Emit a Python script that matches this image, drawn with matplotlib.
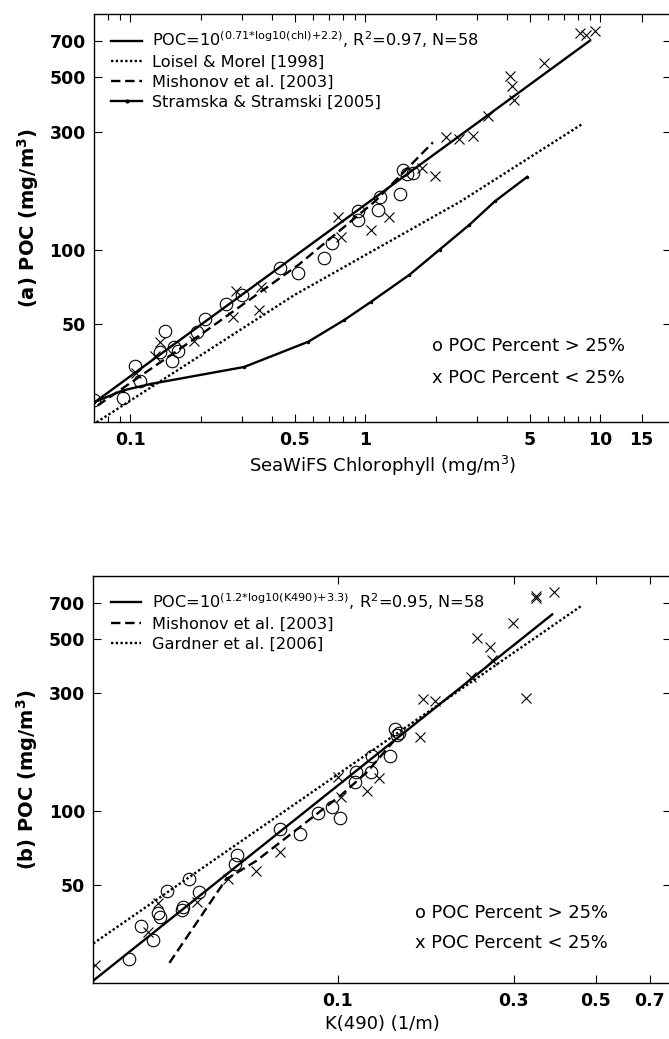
import matplotlib
matplotlib.use('Agg')
import matplotlib.pyplot as plt
from matplotlib.ticker import FixedLocator, FixedFormatter, NullFormatter, NullLocator
from matplotlib.lines import Line2D

plt.rcParams['font.family'] = ['DejaVu Sans']
plt.rcParams['mathtext.fontset'] = 'custom'
plt.rcParams['mathtext.rm'] = 'DejaVu Sans'
plt.rcParams['mathtext.it'] = 'DejaVu Sans'
plt.rcParams['mathtext.bf'] = 'DejaVu Sans:bold'
plt.rcParams['mathtext.default'] = 'regular'

# ---------------- Panel (a): POC vs SeaWiFS chlorophyll ----------------
chl_circle = [0.070, 0.0927, 0.105, 0.110, 0.141, 0.134, 0.154, 0.159, 0.150, 0.193, 0.207,
              0.255, 0.298, 0.434, 0.515, 0.667, 0.719, 0.933, 0.933, 1.13, 1.15, 1.41,
              1.45, 1.51, 1.60]
poc_circle_a = [24.6, 25.1, 33.8, 29.4, 47.0, 38.4, 40.2, 39.0, 35.5, 46.3, 52.5,
                60.4, 65.3, 84.5, 80.5, 92.2, 106, 143, 132, 145, 164, 168,
                211, 202, 205]
chl_cross = [0.106, 0.127, 0.134, 0.187, 0.274, 0.351, 0.281, 0.360, 0.767, 0.784, 1.06,
             1.26, 1.75, 1.98, 2.20, 2.50, 2.87, 3.34, 4.12, 4.20, 4.30, 5.77, 8.23,
             8.66, 9.52]
poc_cross_a = [31.8, 37.2, 42.1, 42.8, 53.3, 56.8, 67.8, 70.6, 136, 113, 120,
               136, 215, 199, 285, 280, 289, 349, 503, 458, 404, 570, 757,
               740, 771]

fit_a_chl = [0.070, 9.0]
fit_a_poc = [24.0, 700]
loisel_chl = [0.0718, 0.5, 2.55, 8.39]
loisel_poc = [20.0, 65.6, 157, 323]
mishonov_a_chl = [0.0726, 0.207, 0.52, 1.10, 1.94]
mishonov_a_poc = [23.4, 46.5, 86.9, 157, 272]
stramska_chl = [0.070, 0.0927, 0.122, 0.305, 0.572, 0.813, 1.06, 1.54, 2.07, 2.77, 3.56, 4.88]
stramska_poc = [24.1, 26.9, 28.6, 33.5, 42.4, 51.9, 61.6, 79.1, 100, 126, 157, 197]

# ---------------- Panel (b): POC vs K(490) ----------------
k_circle = [0.0271, 0.0316, 0.0292, 0.0329, 0.0326, 0.0344, 0.0378, 0.0380, 0.0395, 0.0419,
            0.0531, 0.0527, 0.0697, 0.0787, 0.0880, 0.0961, 0.101, 0.111, 0.112, 0.123,
            0.124, 0.138, 0.143, 0.145, 0.146]
poc_circle_b = [25.0, 29.9, 34.0, 37.1, 38.5, 47.4, 39.6, 40.9, 52.8, 46.7,
                66.2, 60.7, 84.5, 81.0, 98.5, 104, 93.5, 131, 144, 144,
                167, 167, 215, 203, 207]
k_cross = [0.0219, 0.0305, 0.0326, 0.0414, 0.0503, 0.0599, 0.0697, 0.100, 0.102, 0.120,
           0.129, 0.167, 0.170, 0.183, 0.230, 0.238, 0.258, 0.261, 0.298, 0.323,
           0.344, 0.344, 0.386]
poc_cross_b = [23.7, 32.3, 42.2, 42.8, 52.8, 57.1, 68.1, 137, 114, 120,
               136, 199, 284, 279, 351, 501, 461, 410, 577, 288,
               748, 730, 773]

fit_b_k = [0.0217, 0.381]
fit_b_poc = [20.5, 627]
mishonov_b_k = [0.0349, 0.0497, 0.0599, 0.078, 0.102, 0.120, 0.145]
mishonov_b_poc = [24.2, 52.8, 62.6, 85, 116, 144, 200]
gardner_k = [0.0217, 0.459]
gardner_poc = [29.0, 682]

yticks = [50, 100, 300, 500, 700]

W, H = 669, 1039
fig = plt.figure(figsize=(W / 100, H / 100), dpi=100)

def px_axes(left, top, right, bottom):
    return fig.add_axes([left / W, 1 - bottom / H, (right - left) / W, (bottom - top) / H])

ax1 = px_axes(94, 14, 671, 422.3)
ax2 = px_axes(93.3, 575.7, 671, 983.3)

lw = 1.7
mk = dict(linestyle='none', color='black', markerfacecolor='none', markeredgewidth=0.8)
LEGFS = 11.6
ANNFS = 12.9

# Panel (a)
ax1.plot(chl_circle, poc_circle_a, marker='o', markersize=9, **mk)
ax1.plot(chl_cross, poc_cross_a, marker='x', markersize=7.5, **mk)
l1, = ax1.plot(fit_a_chl, fit_a_poc, color='black', lw=lw, linestyle='-')
l2, = ax1.plot(loisel_chl, loisel_poc, color='black', lw=lw, linestyle=(0, (1, 1)))
l3, = ax1.plot(mishonov_a_chl, mishonov_a_poc, color='black', lw=lw, linestyle=(0, (4, 2)))
l4, = ax1.plot(stramska_chl, stramska_poc, color='black', lw=lw, linestyle='-',
               marker='.', markersize=3)
h4 = Line2D([], [], color='black', lw=lw, marker='.', markersize=4)

ax1.set_xscale('log')
ax1.set_yscale('log')
ax1.set_xlim(0.07, 20)
ax1.set_ylim(20, 900)
ax1.xaxis.set_major_locator(FixedLocator([0.1, 0.5, 1, 5, 10, 15]))
ax1.xaxis.set_major_formatter(FixedFormatter(['0.1', '0.5', '1', '5', '10', '15']))
ax1.xaxis.set_minor_locator(FixedLocator([0.08, 0.09, 0.2, 0.3, 0.4, 0.6, 0.7, 0.8, 0.9,
                                           2, 3, 4, 6, 7, 8, 9]))
ax1.xaxis.set_minor_formatter(NullFormatter())

leg1 = ax1.legend([l1, l2, l3, h4],
                  [r'POC=10$^{(0.71{*}log10(chl){+}2.2)}$, R$^2$=0.97, N=58',
                   'Loisel & Morel [1998]', 'Mishonov et al. [2003]',
                   'Stramska & Stramski [2005]'],
                  loc='upper left', bbox_to_anchor=(0.03, 0.962), frameon=False,
                  fontsize=LEGFS, handlelength=1.9, handletextpad=0.65, labelspacing=0.3,
                  borderpad=0, borderaxespad=0)
ax1.text(0.586, 0.186, 'o POC Percent > 25%', transform=ax1.transAxes, fontsize=ANNFS,
         va='center', ha='left')
ax1.text(0.586, 0.108, 'x POC Percent < 25%', transform=ax1.transAxes, fontsize=ANNFS,
         va='center', ha='left')
ax1.set_xlabel('SeaWiFS Chlorophyll (mg/m$^3$)', fontsize=13, labelpad=4)
ax1.set_ylabel('(a) POC (mg/m$^3$)', fontsize=14, fontweight='bold', labelpad=6)

# Panel (b)
ax2.plot(k_circle, poc_circle_b, marker='o', markersize=9, **mk)
ax2.plot(k_cross, poc_cross_b, marker='x', markersize=7.5, **mk)
m1, = ax2.plot(fit_b_k, fit_b_poc, color='black', lw=lw, linestyle='-')
m2, = ax2.plot(mishonov_b_k, mishonov_b_poc, color='black', lw=lw, linestyle=(0, (4, 2)))
m3, = ax2.plot(gardner_k, gardner_poc, color='black', lw=lw, linestyle=(0, (1, 1)))

ax2.set_xscale('log')
ax2.set_yscale('log')
ax2.set_xlim(0.0217, 0.8)
ax2.set_ylim(20, 900)
ax2.xaxis.set_major_locator(FixedLocator([0.1, 0.3, 0.5, 0.7]))
ax2.xaxis.set_major_formatter(FixedFormatter(['0.1', '0.3', '0.5', '0.7']))
ax2.xaxis.set_minor_locator(NullLocator())

leg2 = ax2.legend([m1, m2, m3],
                  [r'POC=10$^{(1.2{*}log10(K490){+}3.3)}$, R$^2$=0.95, N=58',
                   'Mishonov et al. [2003]', 'Gardner et al. [2006]'],
                  loc='upper left', bbox_to_anchor=(0.03, 0.962), frameon=False,
                  fontsize=LEGFS, handlelength=1.9, handletextpad=0.65, labelspacing=0.3,
                  borderpad=0, borderaxespad=0)
ax2.text(0.557, 0.173, 'o POC Percent > 25%', transform=ax2.transAxes, fontsize=ANNFS,
         va='center', ha='left')
ax2.text(0.557, 0.099, 'x POC Percent < 25%', transform=ax2.transAxes, fontsize=ANNFS,
         va='center', ha='left')
ax2.set_xlabel('K(490) (1/m)', fontsize=13, labelpad=4)
ax2.set_ylabel('(b) POC (mg/m$^3$)', fontsize=14, fontweight='bold', labelpad=6)

for ax in (ax1, ax2):
    ax.yaxis.set_major_locator(FixedLocator(yticks))
    ax.yaxis.set_major_formatter(FixedFormatter([str(v) for v in yticks]))
    ax.yaxis.set_minor_locator(NullLocator())
    ax.tick_params(which='both', direction='in', top=True, right=True, labelsize=12.5,
                   width=0.8, pad=6)
    ax.tick_params(which='major', length=6)
    ax.tick_params(which='minor', length=4)
    for lab in ax.get_xticklabels() + ax.get_yticklabels():
        lab.set_fontweight('bold')
    for s in ax.spines.values():
        s.set_linewidth(1.0)

fig.savefig('out.png', dpi=100)
